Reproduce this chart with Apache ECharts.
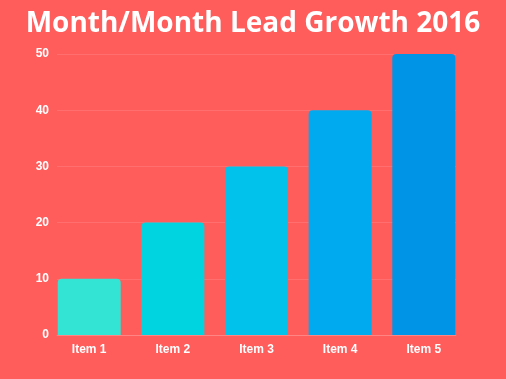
<!DOCTYPE html>
<html><head><meta charset="utf-8">
<script src="https://cdn.jsdelivr.net/npm/echarts@6/dist/echarts.min.js"></script>
<style>html,body{margin:0;padding:0;background:#FF5C5C;}#c{width:506px;height:379px;}</style>
</head><body><div id="c"></div>
<script>
var categories = ['Item 1', 'Item 2', 'Item 3', 'Item 4', 'Item 5'];
var values = [10, 20, 30, 40, 50];
var barColors = ['#33E4D4', '#00D4E0', '#00C2EA', '#00AAEE', '#0094E6'];
var yTicks = [0, 10, 20, 30, 40, 50];

var chart = echarts.init(document.getElementById('c'), null, {renderer: 'canvas'});
chart.setOption({
  backgroundColor: '#FF5C5C',
  animation: false,
  title: {
    text: 'Month/Month Lead Growth 2016',
    left: 'center', top: 5,
    textStyle: {color: '#FFFFFF', fontFamily: 'Open Sans', fontWeight: 'bold', fontSize: 28}
  },
  grid: {left: 57, right: 50, top: 54, bottom: 44},
  xAxis: {
    type: 'value', min: -0.385, max: 4.385,
    splitLine: {show: false},
    axisTick: {show: false},
    axisLine: {show: true, lineStyle: {color: 'rgba(255,255,255,0.15)', width: 1}},
    axisLabel: {
      customValues: categories.map(function(_, i){ return i; }),
      formatter: function(v){ return categories[Math.round(v)]; },
      color: '#FFFFFF', fontFamily: 'Liberation Sans', fontWeight: 'bold', fontSize: 12, margin: 9
    }
  },
  yAxis: {
    type: 'value', min: 0, max: 50, interval: 10,
    axisLine: {show: false}, axisTick: {show: false},
    splitLine: {lineStyle: {color: 'rgba(255,255,255,0.12)', width: 1}},
    axisLabel: {color: '#FFFFFF', fontFamily: 'Liberation Sans', fontWeight: 'bold', fontSize: 12, margin: 8}
  },
  series: [{
    type: 'bar',
    barWidth: 63,
    data: values.map(function(v, i){
      return {value: [i, v], itemStyle: {color: barColors[i], borderRadius: [4, 4, 0, 0]}};
    })
  }]
});
</script></body></html>
